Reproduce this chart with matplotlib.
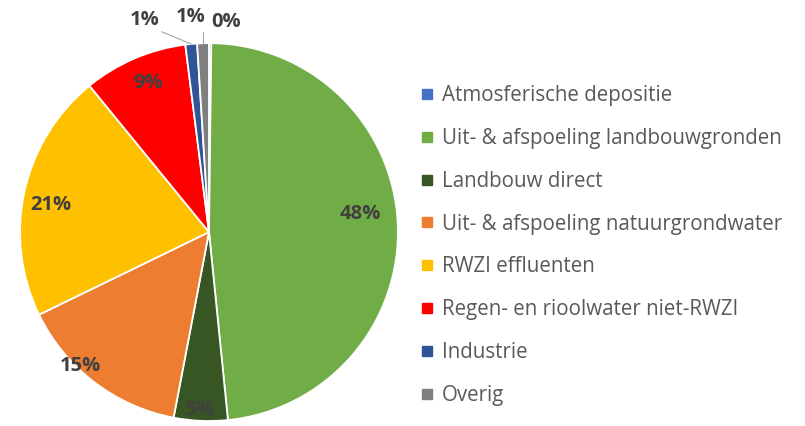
import matplotlib
matplotlib.use("Agg")
import matplotlib.pyplot as plt
from matplotlib.lines import Line2D
import numpy as np

plt.rcParams['font.family'] = ['Open Sans', 'DejaVu Sans']

categories = ["Atmosferische depositie", "Uit- & afspoeling landbouwgronden",
              "Landbouw direct", "Uit- & afspoeling natuurgrondwater",
              "RWZI effluenten", "Regen- en rioolwater niet-RWZI",
              "Industrie", "Overig"]
values = [0.2, 48.2, 4.6, 14.8, 21.3, 8.9, 1.0, 1.0]
colors = ["#4472C4", "#70AD47", "#375623", "#ED7D31", "#FFC000", "#FF0000",
          "#2F5597", "#7F7F7F"]

# label placement (in pie-radius units), as positioned in the original chart
label_xy = [(0.09, 1.11), (0.80, 0.095), (-0.05, -0.94), (-0.68, -0.71),
            (-0.836, 0.143), (-0.32, 0.79), (-0.34, 1.12), (-0.095, 1.14)]

fig = plt.figure(figsize=(8.05, 4.26), dpi=100)
ax = fig.add_axes([0.0248, 0.0117, 0.4696, 0.887])

wedges, texts, autotexts = ax.pie(
    values, colors=colors, startangle=90, counterclock=False,
    autopct='%.0f%%', pctdistance=0.8, radius=1.0,
    wedgeprops=dict(edgecolor='white', linewidth=1.3),
    textprops=dict(color='#404040', fontsize=14.5, fontweight='bold'))
ax.set_xlim(-1, 1)
ax.set_ylim(-1, 1)
ax.set_aspect('equal')
ax.axis('off')

for t, xy in zip(autotexts, label_xy):
    t.set_position(xy)

# leader lines for small slices
def edge_point(i, r=1.0):
    w = wedges[i]
    ang = np.deg2rad((w.theta1 + w.theta2) / 2)
    return r * np.cos(ang), r * np.sin(ang)

px, py = edge_point(6)
ax.plot([-0.25, px], [1.06, py], color='#A6A6A6', lw=0.8, clip_on=False)
gx, gy = edge_point(7)
ax.plot([gx, gx], [1.06, gy], color='#A6A6A6', lw=0.8, clip_on=False)

handles = [Line2D([0], [0], marker='s', linestyle='none', markersize=7.5,
                  markerfacecolor=c, markeredgecolor=c) for c in colors]
fig.legend(handles, categories, loc='upper left',
           bbox_to_anchor=(0.5195, 0.800), frameon=False,
           fontsize=14.8, labelcolor='#595959', handletextpad=0.25,
           labelspacing=1.06, handlelength=0.9, borderpad=0, borderaxespad=0)

fig.savefig("out.png", dpi=100)
